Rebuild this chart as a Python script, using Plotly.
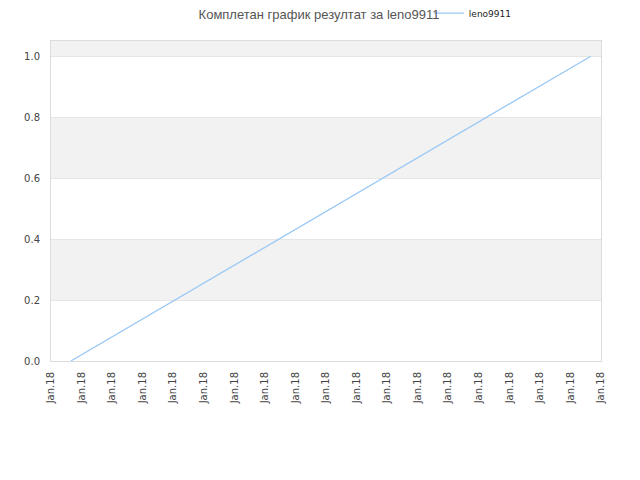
import plotly.graph_objects as go

# data
times = ["2018-01-18 00:39", "2018-01-18 17:40"]
scores = [0.0, 1.0]
series_name = "leno9911"
title = "Комплетан график резултат за leno9911"
y_ticks = [0.0, 0.2, 0.4, 0.6, 0.8, 1.0]
y_top = 1.05
x_start = "2018-01-18 00:00"
x_end = "2018-01-18 18:00"

fig = go.Figure()
fig.add_trace(go.Scatter(x=times, y=scores, mode="lines", name=series_name,
                         line=dict(color="#99c8f5", width=1.3)))

# alternating bands between gridlines
shapes = []
for i, lo in enumerate(y_ticks):
    hi = y_ticks[i + 1] if i + 1 < len(y_ticks) else y_top
    if i % 2 == 1:
        fill = "#f2f2f2"
    elif i == len(y_ticks) - 1:
        fill = "#ececec"
    else:
        continue
    shapes.append(dict(type="rect", xref="paper", yref="y", x0=0, x1=1, y0=lo, y1=hi,
                       fillcolor=fill, line=dict(width=0), layer="below"))

fig.update_layout(
    width=640, height=480,
    margin=dict(l=43, r=47, t=33, b=127, autoexpand=False),
    paper_bgcolor="white", plot_bgcolor="white",
    font=dict(family="DejaVu Sans", size=10, color="#444"),
    title=dict(text=title, x=0.486, xanchor="center", y=0.986, yanchor="middle",
               font=dict(family="Liberation Sans", size=13, color="#555")),
    showlegend=True,
    legend=dict(x=0.687, y=1.087, xanchor="left", yanchor="middle",
                font=dict(size=9, color="#222"), bgcolor="rgba(0,0,0,0)"),
    shapes=shapes,
)
fig.update_xaxes(type="date", range=[x_start, x_end], dtick=3600000,
                 tick0=x_start, tickformat="%b.%d", tickangle=-90,
                 showgrid=False, showline=True, linecolor="#dcdcdc", mirror=True,
                 ticks="", zeroline=False, ticklabelstandoff=6,
                 tickfont=dict(size=10, color="#444"))
fig.update_yaxes(range=[0, y_top], tickvals=y_ticks, tickformat=".1f",
                 showgrid=True, gridcolor="#e6e6e6", showline=True,
                 linecolor="#dcdcdc", mirror=True, zeroline=False, ticks="",
                 ticklabelstandoff=8, tickfont=dict(size=10, color="#444"))

fig.write_html("out.html")
